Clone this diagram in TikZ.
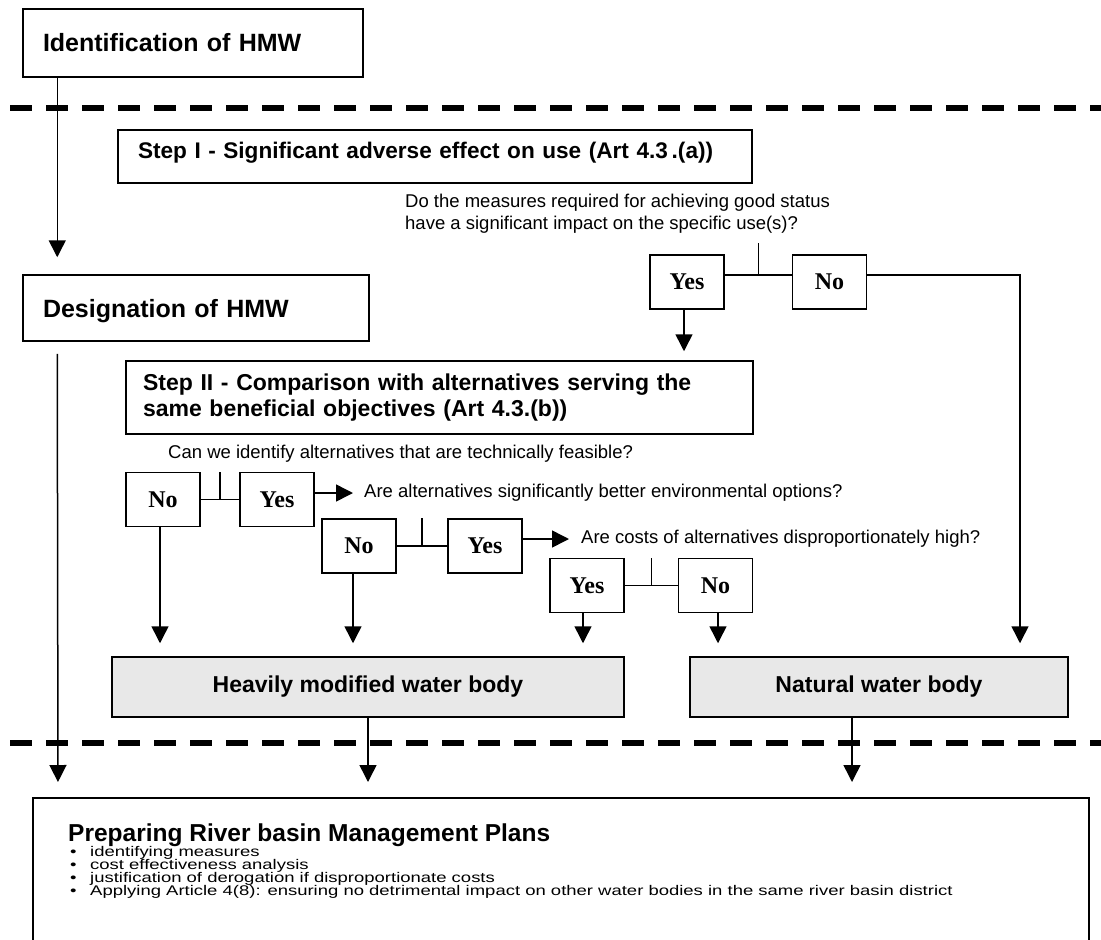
\documentclass[tikz,border=0pt]{standalone}
\usepackage{fontspec}
\setmainfont{Liberation Sans}
\newfontfamily\ynfont{Liberation Serif}
\newfontfamily\listfont[FakeStretch=1.32]{Liberation Sans}
\newcommand\listsetup{\listfont\fontsize{14}{13}\selectfont\lineskiplimit=-20pt\relax}
\usetikzlibrary{arrows.meta,calc,positioning}
\tikzset{
    headbox/.style={
        draw, line width=1.5pt, align=left,
        inner xsep=20pt, inner ysep=0pt,
        font=\bfseries\fontsize{25}{30}\selectfont
    },
    stepbox/.style={
        headbox,
        font=\bfseries\fontsize{23}{26}\selectfont
    },
    answer/.style={
        draw, line width=1.5pt, inner sep=0pt,
        minimum width=74pt, minimum height=54pt,
        font=\ynfont\bfseries\fontsize{24}{28}\selectfont
    },
    outcome/.style={
        draw, line width=1.5pt, fill=gray!18, inner sep=0pt,
        minimum height=60pt,
        font=\bfseries\fontsize{23}{26}\selectfont
    },
    question/.style={
        inner sep=0pt, align=left,
        font=\fontsize{18.5}{22}\selectfont
    },
    flow/.style={
        line width=1.5pt,
        -{Triangle[length=17pt,width=17pt]}
    },
    joint/.style={line width=1.5pt},
    divider/.style={line width=5.5pt, dash pattern=on 22pt off 14pt}
}

\begin{document}
\begin{tikzpicture}[x=1pt,y=-1pt]
                \clip (0,0) rectangle (1101,940);

                % stage dividers
                \draw[divider] (10,108) -- (1101,108);
                \draw[divider] (10,743) -- (1101,743);

                \node[headbox, text width=300pt, minimum height=68pt] (ident) at (193,43) {Identification of HMW};
                \node[headbox, text width=306pt, minimum height=66pt, text depth=0pt] (desig) at (196,308) {Designation of HMW};

                % step I
                \node[stepbox, text width=594pt, minimum height=53pt, text depth=12pt,
                      font=\bfseries\fontsize{22.6}{26}\selectfont] (stepI) at (435,156.5)
                    {\mbox{Step I - Significant adverse effect on use (Art 4.3\,.(a))}};
                \node[question, anchor=west] (qUse) at (405,214)
                    {Do the measures required for achieving good status\\have a significant impact on the specific use(s)?};
                \node[answer] (yesA) at (687,282) {Yes};
                \node[answer] (noA) at (829.5,282) {No};

                % step II
                \node[stepbox, text width=593pt, inner xsep=17pt, minimum height=73pt] (stepII) at (439.5,397.5)
                    {Step II - Comparison with alternatives serving the\\same beneficial objectives (Art 4.3.(b))};
                \node[question, anchor=west] (qFeas) at (168,454)
                    {Can we identify alternatives that are technically feasible?};
                \node[answer] (noB) at (163,499.5) {No};
                \node[answer] (yesB) at (277,499.5) {Yes};
                \node[question, anchor=west] (qEnv) at (364,493)
                    {Are alternatives significantly better environmental options?};
                \node[answer] (noC) at (359,546) {No};
                \node[answer] (yesC) at (485,546) {Yes};
                \node[question, anchor=west] (qCost) at (581,539)
                    {Are costs of alternatives disproportionately high?};
                \node[answer] (yesD) at (587,585.5) {Yes};
                \node[answer] (noD) at (715.5,585.5) {No};

                % outcomes
                \node[outcome, minimum width=512pt] (hmwb) at (368,687) {Heavily modified water body};
                \node[outcome, minimum width=378pt] (nat) at (879,687) {Natural water body};

                \node[draw, line width=1.5pt, inner sep=0pt, anchor=north west,
                      minimum width=1056pt, minimum height=200pt] (rbmp) at (32,797) {};
                \node[anchor=base west, inner sep=0pt, font=\bfseries\fontsize{24.5}{28}\selectfont]
                    (rbmpTitle) at (68,841.5) {Preparing River basin Management Plans};
                \node[anchor=north west, inner sep=0pt, align=left, font=\listsetup]
                    (rbmpList) at (70,846) {%
                    \makebox[20pt][l]{\textbullet}identifying measures\\
                    \makebox[20pt][l]{\textbullet}cost effectiveness analysis\\
                    \makebox[20pt][l]{\textbullet}justification of derogation if disproportionate costs\\
                    \makebox[20pt][l]{\textbullet}Applying Article 4(8): ensuring no detrimental impact on other water bodies in the same river basin district};

                % junctions between the answers
                \coordinate (jA) at ($(yesA.east)!0.5!(noA.west)$);
                \coordinate (jB) at ($(noB.east)!0.5!(yesB.west)$);
                \coordinate (jC) at ($(noC.east)!0.5!(yesC.west)$);
                \coordinate (jD) at ($(yesD.east)!0.5!(noD.west)$);

                \draw[joint] ([yshift=7pt]yesA.east) -- ([yshift=7pt]noA.west);
                \draw[joint] ([yshift=7pt]jA) -- ([yshift=39pt]jA);
                \draw[joint] (noB) -- (yesB);
                \draw[joint] (jB) -- (jB |- noB.north);
                \draw[joint] (noC) -- (yesC);
                \draw[joint] (jC) -- (jC |- noC.north);
                \draw[joint] (yesD) -- (noD);
                \draw[joint] (jD) -- (jD |- yesD.north);

                % flow
                \draw[flow, shorten >=17pt] ([xshift=35pt]ident.south west) -- ([xshift=35pt]desig.north west);
                \draw[flow, shorten <=12pt, shorten >=15pt] ([xshift=35pt]desig.south west) -- ([xshift=26pt]rbmp.north west);
                \draw[flow, shorten >=9pt] ([xshift=-3pt]yesA.south) -- ([xshift=-3pt]yesA.south |- stepII.north);
                \draw[flow, shorten >=13pt] ([yshift=7pt]noA.east) -| ([xshift=141pt]nat.north);
                \draw[flow, shorten >=11pt] ([yshift=6.5pt]yesB.east) -- (qEnv.west);
                \draw[flow, shorten >=12pt] ([yshift=7pt]yesC.east) -- (qCost.west);
                \draw[flow, shorten >=13pt] ([xshift=-3pt]noB.south) -- ([xshift=-3pt]noB.south |- hmwb.north);
                \draw[flow, shorten >=13pt] ([xshift=-6pt]noC.south) -- ([xshift=-6pt]noC.south |- hmwb.north);
                \draw[flow, shorten >=13pt] ([xshift=-4pt]yesD.south) -- ([xshift=-4pt]yesD.south |- hmwb.north);
                \draw[flow, shorten >=13pt] ([xshift=2.5pt]noD.south) -- ([xshift=2.5pt]noD.south |- nat.north);
                \draw[flow, shorten >=15pt] (hmwb.south) -- (hmwb.south |- rbmp.north);
                \draw[flow, shorten >=15pt] ([xshift=-27pt]nat.south) -- ([xshift=-27pt]nat.south |- rbmp.north);
\end{tikzpicture}
\end{document}
